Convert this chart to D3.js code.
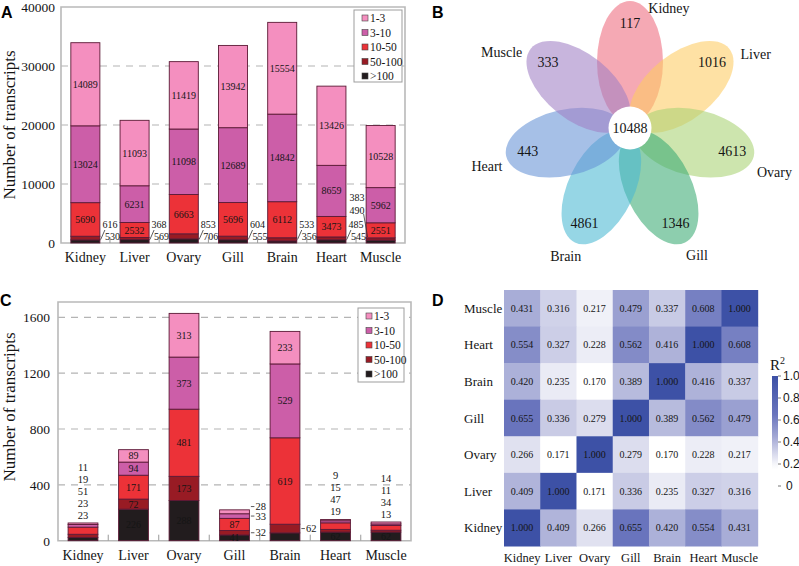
<!DOCTYPE html>
<html>
<head>
<meta charset="utf-8">
<script src="https://cdn.jsdelivr.net/npm/d3@7/dist/d3.min.js"></script>
<style>
  body { margin: 0; background: #fff; }
  svg { display: block; }
  text { font-family: "Liberation Serif", "Times New Roman", serif; fill: #151515; }
  .panel-tag { font-family: "Liberation Sans", Arial, sans-serif; font-weight: bold; font-size: 16px; fill: #000; }
</style>
</head>
<body>
<svg id="fig" width="799" height="566"></svg>
<script>
// ---- data ----
const tissues = ["Kidney", "Liver", "Ovary", "Gill", "Brain", "Heart", "Muscle"];
const bins = ["1-3", "3-10", "10-50", "50-100", ">100"];

// A: all expressed transcripts, by FPKM bin
const allOneToThree = [14089, 11093, 11419, 13942, 15554, 13426, 10528];
const allThreeToTen = [13024, 6231, 11098, 12689, 14842, 8659, 5962];
const allTenToFifty = [5690, 2532, 6663, 5696, 6112, 3473, 2551];
const allFiftyToHundred = [616, 368, 853, 604, 533, 485, 383];
const allOverHundred = [530, 569, 706, 555, 356, 545, 490];
const allTicks = [0, 10000, 20000, 30000, 40000];

// B: tissue specific transcripts (flower)
const petalNames = ["Kidney", "Liver", "Ovary", "Gill", "Brain", "Heart", "Muscle"];
const petalCounts = [117, 1016, 4613, 1346, 4861, 443, 333];
const coreCount = 10488;

// C: tissue specific transcripts, by FPKM bin
const specOneToThree = [11, 89, 313, 28, 233, 9, 14];
const specThreeToTen = [19, 94, 373, 33, 529, 15, 11];
const specTenToFifty = [51, 171, 481, 87, 619, 47, 34];
const specFiftyToHundred = [23, 72, 173, 32, 62, 19, 13];
const specOverHundred = [23, 226, 288, 41, 56, 62, 62];
const specTicks = [0, 400, 800, 1200, 1600];

// D: R^2 between tissues (rows top->bottom, columns = tissues)
const heatRows = ["Muscle", "Heart", "Brain", "Gill", "Ovary", "Liver", "Kidney"];
const r2Muscle = [0.431, 0.316, 0.217, 0.479, 0.337, 0.608, 1.000];
const r2Heart  = [0.554, 0.327, 0.228, 0.562, 0.416, 1.000, 0.608];
const r2Brain  = [0.420, 0.235, 0.170, 0.389, 1.000, 0.416, 0.337];
const r2Gill   = [0.655, 0.336, 0.279, 1.000, 0.389, 0.562, 0.479];
const r2Ovary  = [0.266, 0.171, 1.000, 0.279, 0.170, 0.228, 0.217];
const r2Liver  = [0.409, 1.000, 0.171, 0.336, 0.235, 0.327, 0.316];
const r2Kidney = [1.000, 0.409, 0.266, 0.655, 0.420, 0.554, 0.431];
const r2Ticks = [0, 0.2, 0.4, 0.6, 0.8, 1.0];

// ---- styles ----
const binColors = ["#f48fbf", "#cc5ea8", "#ec3238", "#981b24", "#221c1e"];
const petalColors = ["#ee6a7e", "#fdcc63", "#a8d374", "#3aaa74", "#4ab8d2", "#6592d6", "#a07fc4"];

const svg = d3.select("#fig");
svg.append("rect").attr("width", 799).attr("height", 566).attr("fill", "#fff");

// ---------- stacked bar panel ----------
function stackedPanel(o) {
  const g = svg.append("g");
  const x = d3.scaleBand().domain(tissues).range([o.left, o.right])
    .paddingInner(0.41).paddingOuter(0.2);
  const y = d3.scaleLinear().domain([0, o.ticks[o.ticks.length - 1]])
    .range([o.bottom, o.tickTopY]);

  const rows = tissues.map((t, i) => {
    const r = { tissue: t };
    bins.forEach((b, j) => { r[b] = o.series[j][i]; });
    return r;
  });
  const stacked = d3.stack().keys(bins.slice().reverse())(rows);

  // grid
  g.selectAll(".grid").data(o.ticks.filter(t => t > 0 && y(t) > o.frameTop + 2))
    .join("line")
    .attr("x1", o.left).attr("x2", o.right)
    .attr("y1", d => y(d)).attr("y2", d => y(d))
    .attr("stroke", "#b4b4b4").attr("stroke-width", 1.2)
    .attr("stroke-dasharray", "7,6");

  // frame
  g.append("path")
    .attr("d", `M${o.left},${o.bottom}V${o.frameTop}H${o.right}V${o.bottom}Z`)
    .attr("fill", "none").attr("stroke", "#b9b9b9").attr("stroke-width", 1.6);

  // small ticks between categories
  const step = x.step();
  g.selectAll(".sep").data(tissues.slice(1)).join("line")
    .attr("x1", d => x(d) - step * 0.205).attr("x2", d => x(d) - step * 0.205)
    .attr("y1", o.bottom).attr("y2", o.bottom - 6)
    .attr("stroke", "#9a9a9a").attr("stroke-width", 1);

  // bars
  stacked.forEach(s => {
    const j = bins.indexOf(s.key);
    g.selectAll(null).data(s).join("rect")
      .attr("x", d => x(d.data.tissue)).attr("width", x.bandwidth())
      .attr("y", d => y(d[1])).attr("height", d => y(d[0]) - y(d[1]))
      .attr("fill", binColors[j])
      .attr("stroke", "#5b1935").attr("stroke-width", 0.9);
  });

  // axis labels
  const yAxis = g.append("g").attr("transform", `translate(${o.left},0)`)
    .call(d3.axisLeft(y).tickValues(o.ticks).tickFormat(d3.format("d"))
      .tickSize(0).tickPadding(o.tickPad));
  yAxis.select(".domain").remove();
  yAxis.selectAll("text").style("font-family", '"Liberation Serif", serif')
    .style("font-size", "13.5px").attr("fill", "#151515");

  g.selectAll(".xl").data(tissues).join("text")
    .attr("x", d => x(d) + x.bandwidth() / 2).attr("y", o.bottom + 19)
    .attr("text-anchor", "middle").style("font-size", "14px").text(d => d);

  g.append("text")
    .attr("transform", `translate(${o.titleX},${o.titleY}) rotate(-90)`)
    .attr("text-anchor", "middle").attr("dy", "0.35em")
    .style("font-size", "17px").text("Number of transcripts");

  // legend
  const lg = g.append("g");
  lg.append("rect").attr("x", o.legend.x).attr("y", o.legend.y)
    .attr("width", o.legend.w).attr("height", o.legend.h)
    .attr("fill", "#fff").attr("stroke", "#9d9d9d").attr("stroke-width", 1);
  bins.forEach((b, j) => {
    const yy = o.legend.y + 8 + j * 14.5;
    lg.append("rect").attr("x", o.legend.x + 8).attr("y", yy - 3)
      .attr("width", 6).attr("height", 6).attr("fill", binColors[j])
      .attr("stroke", "#444").attr("stroke-width", 0.6);
    lg.append("text").attr("x", o.legend.x + 16).attr("y", yy).attr("dy", "0.35em")
      .style("font-size", "11.5px").text(b);
  });

  return { g, x, y, stacked };
}

function segOf(stacked, bin, tissue) {
  const s = stacked.find(k => k.key === bin);
  return s[tissues.indexOf(tissue)];
}

// ---------- Panel A ----------
const A = stackedPanel({
  left: 61, right: 405, frameTop: 7, bottom: 243, tickTopY: 7,
  ticks: allTicks, tickPad: 6, titleX: 9, titleY: 125,
  series: [allOneToThree, allThreeToTen, allTenToFifty, allFiftyToHundred, allOverHundred],
  legend: { x: 354, y: 10, w: 48, h: 72 }
});
tissues.forEach((t, i) => {
  const bx = A.x(t), bw = A.x.bandwidth();
  [0, 1, 2].forEach(j => {
    const d = segOf(A.stacked, bins[j], t);
    A.g.append("text").attr("x", bx + bw / 2).attr("y", (A.y(d[0]) + A.y(d[1])) / 2)
      .attr("dy", "0.35em").attr("text-anchor", "middle")
      .style("font-size", "10px").attr("fill", "#2a0b16")
      .text(d3.format("d")(d.data[bins[j]]));
  });
  const y0 = A.y(0);
  const v50 = allFiftyToHundred[i], v100 = allOverHundred[i];
  if (i < tissues.length - 1) {
    const rx = bx + bw;
    A.g.append("line").attr("x1", rx + 0.8).attr("y1", y0 - 3.5)
      .attr("x2", rx + 5).attr("y2", y0 - 13).attr("stroke", "#333").attr("stroke-width", 0.8);
    A.g.append("text").attr("x", rx + 2.5).attr("y", y0 - 15.5).style("font-size", "10px").text(v50);
    A.g.append("text").attr("x", rx + 5).attr("y", y0 - 3.5).style("font-size", "10px").text(v100);
  } else {
    A.g.append("line").attr("x1", bx - 2.5).attr("y1", y0 - 29)
      .attr("x2", bx + 1.5).attr("y2", y0 - 6).attr("stroke", "#333").attr("stroke-width", 0.8);
    A.g.append("text").attr("x", bx - 1.5).attr("y", y0 - 42).attr("text-anchor", "end")
      .style("font-size", "10px").text(v50);
    A.g.append("text").attr("x", bx - 1.5).attr("y", y0 - 29.5).attr("text-anchor", "end")
      .style("font-size", "10px").text(v100);
  }
});

// ---------- Panel C ----------
const C = stackedPanel({
  left: 58, right: 411, frameTop: 302, bottom: 540.7, tickTopY: 317.3,
  ticks: specTicks, tickPad: 8, titleX: 9, titleY: 407,
  series: [specOneToThree, specThreeToTen, specTenToFifty, specFiftyToHundred, specOverHundred],
  legend: { x: 358, y: 308, w: 46, h: 74 }
});
const cLabelPlan = {
  Kidney: { inside: [], side: [], above: [0, 1, 2, 3, 4] },
  Liver:  { inside: [0, 1, 2, 3, 4], side: [], above: [] },
  Ovary:  { inside: [0, 1, 2, 3, 4], side: [], above: [] },
  Gill:   { inside: [2, 4], side: [0, 1, 3], above: [] },
  Brain:  { inside: [0, 1, 2], side: [3], above: [] },
  Heart:  { inside: [4], side: [], above: [0, 1, 2, 3] },
  Muscle: { inside: [4], side: [], above: [0, 1, 2, 3] }
};
tissues.forEach(t => {
  const plan = cLabelPlan[t];
  const bx = C.x(t), bw = C.x.bandwidth();
  plan.inside.forEach(j => {
    const d = segOf(C.stacked, bins[j], t);
    C.g.append("text").attr("x", bx + bw / 2).attr("y", (C.y(d[0]) + C.y(d[1])) / 2)
      .attr("dy", "0.35em").attr("text-anchor", "middle")
      .style("font-size", "10px").attr("fill", j === 4 ? "#fff" : "#2a0b16")
      .text(d.data[bins[j]]);
  });
  let prevY = Infinity;
  plan.side.slice().reverse().forEach(j => {
    const d = segOf(C.stacked, bins[j], t);
    const yy = Math.min((C.y(d[0]) + C.y(d[1])) / 2, prevY - 9.5);
    prevY = yy;
    C.g.append("line").attr("x1", bx + bw + 1.5).attr("x2", bx + bw + 5)
      .attr("y1", yy).attr("y2", yy).attr("stroke", "#333").attr("stroke-width", 0.8);
    C.g.append("text").attr("x", bx + bw + 6).attr("y", yy).attr("dy", "0.35em")
      .style("font-size", "10.5px").text(d.data[bins[j]]);
  });
  const top = C.y(d3.sum(bins, b => segOf(C.stacked, b, t).data[b]));
  const n = plan.above.length;
  plan.above.forEach((j, k) => {
    const d = segOf(C.stacked, bins[j], t);
    C.g.append("text").attr("x", bx + bw / 2).attr("y", top - 8 - 12 * (n - 1 - k))
      .attr("dy", "0.35em").attr("text-anchor", "middle")
      .style("font-size", "10.5px").text(d.data[bins[j]]);
  });
});

// ---------- Panel B ----------
const B = svg.append("g");
const fx = 630, fy = 128;
const rad = a => a * Math.PI / 180;
B.selectAll("ellipse").data(petalNames).join("ellipse")
  .attr("cx", 0).attr("cy", -66).attr("rx", 33).attr("ry", 61)
  .attr("transform", (d, i) => `translate(${fx},${fy}) rotate(${i * 360 / 7})`)
  .attr("fill", (d, i) => petalColors[i]).attr("fill-opacity", 0.58);
B.selectAll(".cnt").data(petalCounts).join("text")
  .attr("x", (d, i) => fx + 105 * Math.sin(rad(i * 360 / 7)))
  .attr("y", (d, i) => fy - 105 * Math.cos(rad(i * 360 / 7)))
  .attr("dy", "0.35em").attr("text-anchor", "middle")
  .style("font-size", "14px").text(d => d);
const nameShift = [18, 8, 4, -2, 1, -2, -8];
const nameRadius = [126, 146, 151, 144, 143, 148, 149];
B.selectAll(".nm").data(petalNames).join("text")
  .attr("x", (d, i) => fx + nameRadius[i] * Math.sin(rad(i * 360 / 7 + nameShift[i])))
  .attr("y", (d, i) => fy - nameRadius[i] * Math.cos(rad(i * 360 / 7 + nameShift[i])))
  .attr("dy", "0.35em").attr("text-anchor", "middle")
  .style("font-size", "14px").text(d => d);
B.append("circle").attr("cx", fx).attr("cy", fy).attr("r", 21.5).attr("fill", "#fff");
B.append("text").attr("x", fx).attr("y", fy).attr("dy", "0.35em").attr("text-anchor", "middle")
  .style("font-size", "14px").text(coreCount);

// ---------- Panel D ----------
const D = svg.append("g");
const heatValues = [r2Muscle, r2Heart, r2Brain, r2Gill, r2Ovary, r2Liver, r2Kidney];
const hx = d3.scaleBand().domain(tissues).range([504, 757.7]);
const hy = d3.scaleBand().domain(heatRows).range([290, 546]);
const heatColor = d3.scaleLinear()
  .domain([0.17, 0.3, 0.45, 0.65, 1.0])
  .range(["#ffffff", "#d5d7eb", "#a2a7d4", "#6a75bd", "#3d51a6"])
  .clamp(true);
const cells = [];
heatRows.forEach((r, ri) => tissues.forEach((c, ci) => cells.push({ r, c, v: heatValues[ri][ci] })));
D.selectAll("rect").data(cells).join("rect")
  .attr("x", d => hx(d.c)).attr("y", d => hy(d.r))
  .attr("width", hx.bandwidth() + 0.5).attr("height", hy.bandwidth() + 0.5)
  .attr("fill", d => heatColor(d.v));
D.selectAll(".cv").data(cells).join("text")
  .attr("x", d => hx(d.c) + hx.bandwidth() / 2).attr("y", d => hy(d.r) + hy.bandwidth() / 2)
  .attr("dy", "0.35em").attr("text-anchor", "middle")
  .style("font-size", "10px").attr("fill", d => d.v >= 0.99 ? "#a3aad8" : "#1d1d1d")
  .text(d => d3.format(".3f")(d.v));
D.selectAll(".rl").data(heatRows).join("text")
  .attr("x", 464).attr("y", d => hy(d) + hy.bandwidth() / 2).attr("dy", "0.35em")
  .style("font-size", "13px").text(d => d);
D.selectAll(".cl").data(tissues).join("text")
  .attr("x", d => hx(d) + hx.bandwidth() / 2).attr("y", 562)
  .attr("text-anchor", "middle").style("font-size", "12.5px").text(d => d);

// color bar
const cb = d3.scaleLinear().domain([0, 1]).range([486, 376]);
const grad = svg.append("defs").append("linearGradient").attr("id", "r2grad")
  .attr("x1", 0).attr("x2", 0).attr("y1", 1).attr("y2", 0);
d3.range(0, 1.0001, 0.05).forEach(v => {
  grad.append("stop").attr("offset", v).attr("stop-color", heatColor(v));
});
D.append("rect").attr("x", 772).attr("y", cb(1)).attr("width", 6).attr("height", cb(0) - cb(1))
  .attr("fill", "url(#r2grad)");
D.selectAll(".cbt").data(r2Ticks).join("line")
  .attr("x1", 778).attr("x2", 781).attr("y1", d => cb(d)).attr("y2", d => cb(d))
  .attr("stroke", "#777").attr("stroke-width", 1);
D.selectAll(".cbl").data(r2Ticks).join("text")
  .attr("x", d => d === 0 ? 786 : 783).attr("y", d => cb(d)).attr("dy", "0.35em")
  .style("font-family", '"Liberation Sans", Arial, sans-serif').style("font-size", "12px")
  .text(d => d === 0 ? "0" : d3.format(".1f")(d));
const r2t = D.append("text").attr("x", 770).attr("y", 370).style("font-size", "15px");
r2t.append("tspan").text("R");
r2t.append("tspan").attr("dy", -6).style("font-size", "10px").text("2");

// panel tags
[["A", 1, 18], ["B", 432, 18], ["C", 0, 306], ["D", 432, 306]].forEach(([t, px, py]) => {
  svg.append("text").attr("class", "panel-tag").attr("x", px).attr("y", py).text(t);
});
</script>
</body>
</html>
